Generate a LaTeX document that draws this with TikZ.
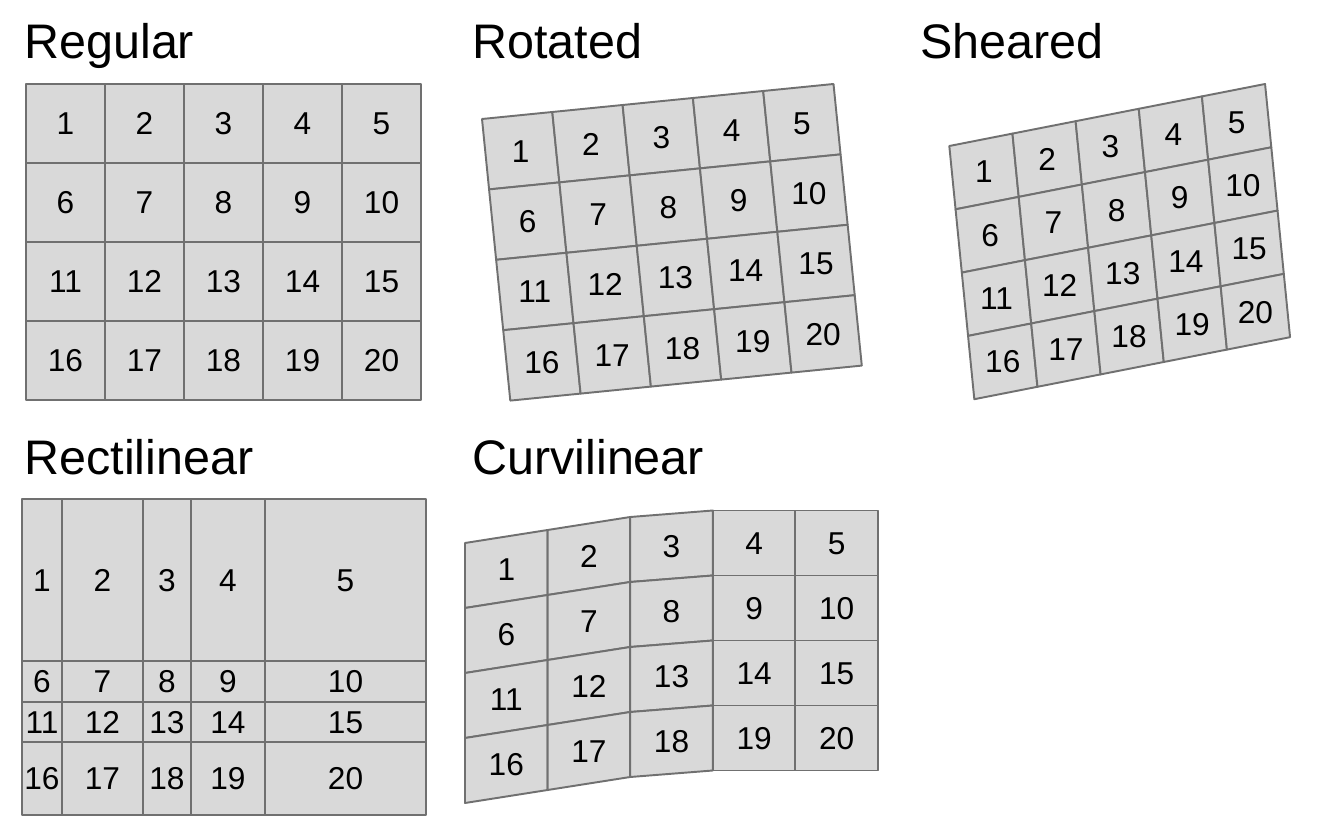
\documentclass[tikz,border=0pt]{standalone}
\usepackage{fontspec}
\setmainfont{Liberation Sans}
\definecolor{cellfill}{HTML}{D9D9D9}
\definecolor{cellline}{HTML}{707070}
\tikzset{
  cell/.style={fill=cellfill,draw=cellline,line width=1.1pt,line join=round},
  num/.style={font=\fontsize{18}{20}\selectfont,inner sep=0pt,text height=12.9pt,text depth=0pt},
  gridtitle/.style={font=\fontsize{27.6}{32}\selectfont,anchor=base west,inner sep=0pt}
}
\begin{document}
\begin{tikzpicture}[x=0.02cm,y=-0.02cm]
\useasboundingbox (0,0) rectangle (1344,830);

% titles
\node[gridtitle] (t-reg) at (24,59) {Regular};
\node[gridtitle] (t-rot) at (472,59) {Rotated};
\node[gridtitle] (t-she) at (920,59) {Sheared};
\node[gridtitle] (t-rec) at (24,475) {Rectilinear};
\node[gridtitle] (t-cur) at (472,475) {Curvilinear};

% regular
\foreach \r in {0,...,3}
  \foreach \c in {0,...,4} {
    \pgfmathtruncatemacro\n{5*\r+\c+1}
    \draw[cell] ({26+79*\c},{84+79*\r}) rectangle +(79,79);
    \node[num] (reg\n) at ({65.5+79*\c},{123.5+79*\r}) {\n};
  }

% rotated
\foreach \r in {0,...,3}
  \foreach \c in {0,...,4} {
    \pgfmathtruncatemacro\n{5*\r+\c+1}
    \draw[cell] ({482+70.3*\c+7.07*\r},{119-7*\c+70.4*\r})
      -- ({482+70.3*(\c+1)+7.07*\r},{119-7*(\c+1)+70.4*\r})
      -- ({482+70.3*(\c+1)+7.07*(\r+1)},{119-7*(\c+1)+70.4*(\r+1)})
      -- ({482+70.3*\c+7.07*(\r+1)},{119-7*\c+70.4*(\r+1)}) -- cycle;
    \node[num] (rot\n) at ({482+70.3*(\c+0.5)+7.07*(\r+0.5)},{119-7*(\c+0.5)+70.4*(\r+0.5)}) {\n};
  }

% sheared
\foreach \r in {0,...,3}
  \foreach \c in {0,...,4} {
    \pgfmathtruncatemacro\n{5*\r+\c+1}
    \draw[cell] ({949.3+63.15*\c+6.25*\r},{146-12.4*\c+63.3*\r})
      -- ({949.3+63.15*(\c+1)+6.25*\r},{146-12.4*(\c+1)+63.3*\r})
      -- ({949.3+63.15*(\c+1)+6.25*(\r+1)},{146-12.4*(\c+1)+63.3*(\r+1)})
      -- ({949.3+63.15*\c+6.25*(\r+1)},{146-12.4*\c+63.3*(\r+1)}) -- cycle;
    \node[num] (she\n) at ({949.3+63.15*(\c+0.5)+6.25*(\r+0.5)},{146-12.4*(\c+0.5)+63.3*(\r+0.5)}) {\n};
  }

% rectilinear
\foreach \r/\ya/\yb in {0/499/661, 1/661/702, 2/702/742, 3/742/815}
  \foreach \c/\xa/\xb in {0/22/62, 1/62/143, 2/143/191, 3/191/265, 4/265/426} {
    \pgfmathtruncatemacro\n{5*\r+\c+1}
    \draw[cell] (\xa,\ya) rectangle (\xb,\yb);
    \node[num] (rec\n) at ({(\xa+\xb)/2},{(\ya+\yb)/2}) {\n};
  }

% curvilinear
\foreach \r in {0,...,3}
  \foreach \c/\ta/\tb in {0/543/530, 1/530/517, 2/517/510.5, 3/510.5/510.5, 4/510.5/510.5} {
    \pgfmathtruncatemacro\n{5*\r+\c+1}
    \draw[cell] ({465+82.6*\c},{\ta+65*\r}) -- ({465+82.6*(\c+1)},{\tb+65*\r})
      -- ({465+82.6*(\c+1)},{\tb+65*(\r+1)}) -- ({465+82.6*\c},{\ta+65*(\r+1)}) -- cycle;
    \node[num] (cur\n) at ({465+82.6*(\c+0.5)},{(\ta+\tb)/2+65*(\r+0.5)}) {\n};
  }
\end{tikzpicture}
\end{document}
